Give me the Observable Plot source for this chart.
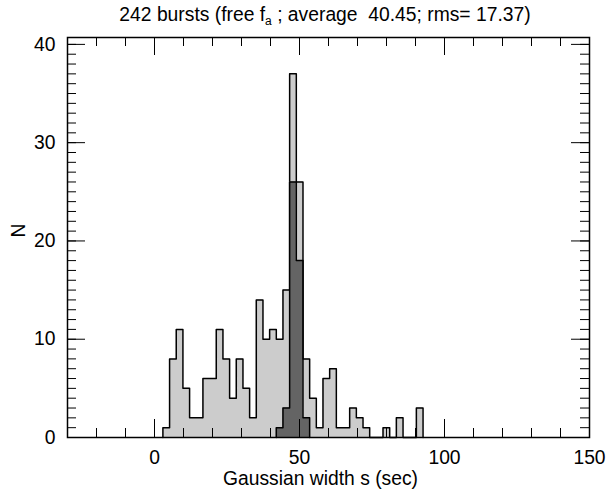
<!DOCTYPE html>
<html><head><meta charset="utf-8">
<script src="https://cdn.jsdelivr.net/npm/d3@7"></script>
<script src="https://cdn.jsdelivr.net/npm/@observablehq/plot@0.6"></script>
<style>
html,body{margin:0;padding:0;background:#fff;}
#chart svg{display:block;}
</style></head><body><div id="chart"></div>
<script>
// ---- data ----
const binStart = 2.9;     // left edge of first bin (sec)
const binWidth = 2.3;     // bin width (sec)
const allCounts = [1,8,11,5,2,2,6,6,11,8,4,8,5,2,14,10,11,10,15,37,26,8,4,1,6,7,1,1,3,2,1,0,0,1,0,2,0,0,3];
const subsetFirstBin = 17;
const subsetCounts = [1,3,26,18,2];
const xMajorTicks = [0,50,100,150];
const xMinorTicks = [-30,-20,-10,0,10,20,30,40,50,60,70,80,90,100,110,120,130,140,150];
const yMajorTicks = [0,10,20,30,40];
const yMinorTicks = [0,1,2,3,4,5,6,7,8,9,10,11,12,13,14,15,16,17,18,19,20,21,22,23,24,25,26,27,28,29,30,31,32,33,34,35,36,37,38,39,40];
const titleMain = "242 bursts (free f";
const titleSub = "a";
const titleRest = " ; average  40.45; rms= 17.37)";
const xLabel = "Gaussian width s (sec)";
const yLabel = "N";

// ---- layout ----
const W = 609, H = 493;
const mL = 67, mR = 20, mT = 37, mB = 56;
const frameW = W - mL - mR, frameH = H - mT - mB;
const minorLen = 9, majorLen = 18;

function stepPoints(first, counts) {
  const e = k => binStart + (first + k) * binWidth;
  const pts = [{x: e(0), y: 0}];
  counts.forEach((c, i) => pts.push({x: e(i), y: c}));
  pts.push({x: e(counts.length), y: counts[counts.length - 1]});
  pts.push({x: e(counts.length), y: 0});
  return pts;
}
const allPts = stepPoints(0, allCounts);
const subPts = stepPoints(subsetFirstBin, subsetCounts);

const chart = Plot.plot({
  width: W, height: H,
  marginLeft: mL, marginRight: mR, marginTop: mT, marginBottom: mB,
  style: {fontFamily: "'Liberation Sans', Arial, sans-serif", fontSize: "19.3px", color: "black", background: "white"},
  x: {domain: [-30, 150]},
  y: {domain: [0, 40.7]},
  marks: [
    Plot.areaY(allPts, {x: "x", y: "y", curve: "step-after", fill: "#cccccc"}),
    Plot.line(allPts, {x: "x", y: "y", curve: "step-after", stroke: "black", strokeWidth: 1.5}),
    Plot.areaY(subPts, {x: "x", y: "y", curve: "step-after", fill: "#646464"}),
    Plot.line(subPts, {x: "x", y: "y", curve: "step-after", stroke: "black", strokeWidth: 1.5}),
    // inward ticks, bottom & top
    Plot.ruleX(xMinorTicks, {stroke: "black", strokeWidth: 1, insetTop: frameH - minorLen}),
    Plot.ruleX(xMajorTicks, {stroke: "black", strokeWidth: 1, insetTop: frameH - majorLen}),
    Plot.ruleX(xMinorTicks, {stroke: "black", strokeWidth: 1, insetBottom: frameH - minorLen}),
    Plot.ruleX(xMajorTicks, {stroke: "black", strokeWidth: 1, insetBottom: frameH - majorLen}),
    // inward ticks, left & right
    Plot.ruleY(yMinorTicks, {stroke: "black", strokeWidth: 1, insetRight: frameW - minorLen}),
    Plot.ruleY(yMajorTicks, {stroke: "black", strokeWidth: 1, insetRight: frameW - majorLen}),
    Plot.ruleY(yMinorTicks, {stroke: "black", strokeWidth: 1, insetLeft: frameW - minorLen}),
    Plot.ruleY(yMajorTicks, {stroke: "black", strokeWidth: 1, insetLeft: frameW - majorLen}),
    Plot.frame({stroke: "black", strokeWidth: 1.5}),
    Plot.axisX({ticks: xMajorTicks, tickSize: 0, tickPadding: 13, label: null, tickFormat: d => String(d)}),
    Plot.axisY({ticks: yMajorTicks, tickSize: 0, tickPadding: 12, label: null, tickFormat: d => String(d)}),
    Plot.text([xLabel], {frameAnchor: "bottom", lineAnchor: "bottom", dy: 47, dx: -8, fill: "black"}),
    Plot.text([yLabel], {frameAnchor: "left", rotate: -90, lineAnchor: "middle", dx: -49, fill: "black"})
  ]
});
document.getElementById("chart").appendChild(chart);

// title with subscript
const svg = d3.select(chart);
const t = svg.append("text")
  .attr("x", mL + frameW / 2 - 3)
  .attr("y", 21)
  .attr("text-anchor", "middle")
  .style("white-space", "pre")
  .style("font-family", "'Liberation Sans', Arial, sans-serif")
  .style("font-size", "19.3px")
  .attr("fill", "black");
t.append("tspan").text(titleMain);
t.append("tspan").attr("dy", 4).style("font-size", "12px").text(titleSub);
t.append("tspan").attr("dy", -4).text(titleRest);
</script></body></html>
